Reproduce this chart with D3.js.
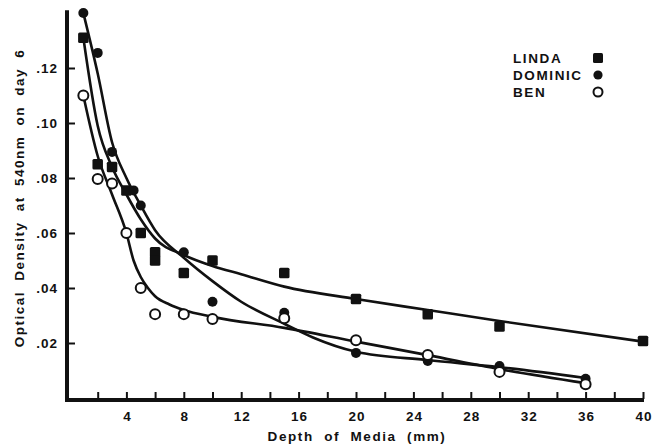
<!DOCTYPE html>
<html><head><meta charset="utf-8">
<script src="https://cdn.jsdelivr.net/npm/d3@7"></script>
<style>
html,body{margin:0;padding:0;background:#fff;}
svg{display:block;}
text{font-family:"Liberation Sans",Arial,Helvetica,sans-serif;font-weight:bold;fill:#111;}
</style></head>
<body>
<svg id="chart" width="657" height="444"></svg>
<script>
// ---- data ----
const xTicks = [4, 8, 12, 16, 20, 24, 28, 32, 36, 40];
const yTicks = [0.02, 0.04, 0.06, 0.08, 0.10, 0.12];
const yTickLabels = [".02", ".04", ".06", ".08", ".10", ".12"];

// measured points
const lindaX = [1, 2, 3, 4, 5, 6, 6, 8, 10, 15, 20, 25, 30, 40];
const lindaY = [0.131, 0.085, 0.084, 0.0755, 0.060, 0.053, 0.050, 0.0455, 0.050, 0.0455, 0.036, 0.0305, 0.026, 0.0207];
const dominicX = [1, 2, 3, 4.5, 5, 8, 10, 15, 20, 25, 30, 36];
const dominicY = [0.140, 0.1255, 0.0895, 0.0755, 0.070, 0.053, 0.035, 0.031, 0.0164, 0.0135, 0.0116, 0.007];
const benX = [1, 2, 3, 4, 5, 6, 8, 10, 15, 20, 25, 30, 36];
const benY = [0.110, 0.0796, 0.078, 0.060, 0.040, 0.0305, 0.0305, 0.0287, 0.029, 0.021, 0.0156, 0.0095, 0.005];

// hand-fitted curves as drawn in the figure
const lindaFitX = [1, 2, 3, 4, 5, 6, 8, 10, 12, 15, 20, 25, 30, 40];
const lindaFitY = [0.131, 0.099, 0.084, 0.074, 0.065, 0.058, 0.052, 0.048, 0.045, 0.0405, 0.036, 0.032, 0.028, 0.0205];
const dominicFitX = [1, 2, 3, 4, 5, 6, 8, 10, 12, 15, 17, 20, 25, 30, 36];
const dominicFitY = [0.140, 0.118, 0.093, 0.080, 0.070, 0.061, 0.051, 0.0425, 0.035, 0.027, 0.022, 0.0168, 0.0138, 0.0112, 0.0073];
const benFitX = [1, 2, 3, 4, 4.5, 5, 5.5, 6, 7, 8, 10, 15, 20, 25, 30, 36];
const benFitY = [0.110, 0.088, 0.074, 0.060, 0.050, 0.044, 0.040, 0.037, 0.034, 0.032, 0.0295, 0.0255, 0.0205, 0.0156, 0.0105, 0.0054];

const legendNames = ["LINDA", "DOMINIC", "BEN"];

// ---- drawing ----
const svg = d3.select("#chart");
const x = d3.scaleLinear().domain([0, 40]).range([69, 643]);
const y = d3.scaleLinear().domain([0, 0.12]).range([398, 68]);
const axisX0 = 67, axisY0 = 400;

// axes lines
svg.append("line").attr("x1", axisX0).attr("x2", axisX0).attr("y1", y(0.141)).attr("y2", axisY0 + 2)
  .attr("stroke", "#111").attr("stroke-width", 4);
svg.append("line").attr("x1", axisX0 - 2).attr("x2", x(40) + 1).attr("y1", axisY0).attr("y2", axisY0)
  .attr("stroke", "#111").attr("stroke-width", 4);

// x axis ticks via d3 axis
const xAxis = d3.axisTop(x).tickValues(d3.range(2, 41, 2)).tickSize(7).tickFormat("");
const gx = svg.append("g").attr("transform", `translate(0,${axisY0 - 1})`).call(xAxis);
gx.select(".domain").remove();
gx.selectAll(".tick line").attr("stroke", "#111").attr("stroke-width", 2);

svg.append("g").selectAll("text").data(xTicks).join("text")
  .attr("x", d => x(d) + 1).attr("y", 421).attr("text-anchor", "middle")
  .attr("font-size", 13.5).attr("letter-spacing", 1).text(d => d);

// y axis ticks
const yAxis = d3.axisRight(y).tickValues(yTicks).tickSize(7).tickFormat("");
const gy = svg.append("g").attr("transform", `translate(${axisX0 + 1},0)`).call(yAxis);
gy.select(".domain").remove();
gy.selectAll(".tick line").attr("stroke", "#111").attr("stroke-width", 2);

svg.append("g").selectAll("text").data(yTicks).join("text")
  .attr("x", 58).attr("y", d => y(d) + 5).attr("text-anchor", "end")
  .attr("font-size", 13.5).attr("letter-spacing", 1).text((d, i) => yTickLabels[i]);

// titles
svg.append("text").attr("x", 357).attr("y", 441).attr("text-anchor", "middle")
  .attr("font-size", 13.5).attr("letter-spacing", 1.6).attr("word-spacing", 5)
  .text("Depth of Media (mm)");
svg.append("text").attr("transform", "translate(24,198) rotate(-90)").attr("text-anchor", "middle")
  .attr("font-size", 13.5).attr("letter-spacing", 1.5).attr("word-spacing", 5)
  .text("Optical Density at 540nm on day 6");

// curves
const line = d3.line().x(d => x(d[0])).y(d => y(d[1])).curve(d3.curveMonotoneX);
const fits = [
  d3.zip(lindaFitX, lindaFitY),
  d3.zip(dominicFitX, dominicFitY),
  d3.zip(benFitX, benFitY)
];
svg.append("g").selectAll("path").data(fits).join("path")
  .attr("d", line).attr("fill", "none").attr("stroke", "#111").attr("stroke-width", 2.6)
  .attr("stroke-linejoin", "round");

// markers
function square(g, cx, cy, s) {
  g.append("rect").attr("x", cx - s / 2).attr("y", cy - s / 2).attr("width", s).attr("height", s)
    .attr("rx", 1.5).attr("fill", "#111");
}
const gm = svg.append("g");
d3.zip(lindaX, lindaY).forEach(([a, b]) => square(gm, x(a), y(b), 10.5));
gm.selectAll("circle.dom").data(d3.zip(dominicX, dominicY)).join("circle").attr("class", "dom")
  .attr("cx", d => x(d[0])).attr("cy", d => y(d[1])).attr("r", 5).attr("fill", "#111");
gm.selectAll("circle.ben").data(d3.zip(benX, benY)).join("circle").attr("class", "ben")
  .attr("cx", d => x(d[0])).attr("cy", d => y(d[1])).attr("r", 5)
  .attr("fill", "#fff").attr("stroke", "#111").attr("stroke-width", 2);

// legend
const lg = svg.append("g");
legendNames.forEach((n, i) => {
  const ly = 58 + i * 17;
  lg.append("text").attr("x", 513).attr("y", ly + 5).attr("font-size", 13.5).attr("letter-spacing", 1.6).text(n);
  if (i === 0) square(lg, 598, ly, 10);
  else if (i === 1) lg.append("circle").attr("cx", 598).attr("cy", ly).attr("r", 4.6).attr("fill", "#111");
  else lg.append("circle").attr("cx", 598).attr("cy", ly).attr("r", 4.5).attr("fill", "#fff").attr("stroke", "#111").attr("stroke-width", 2);
});
</script>
</body></html>
